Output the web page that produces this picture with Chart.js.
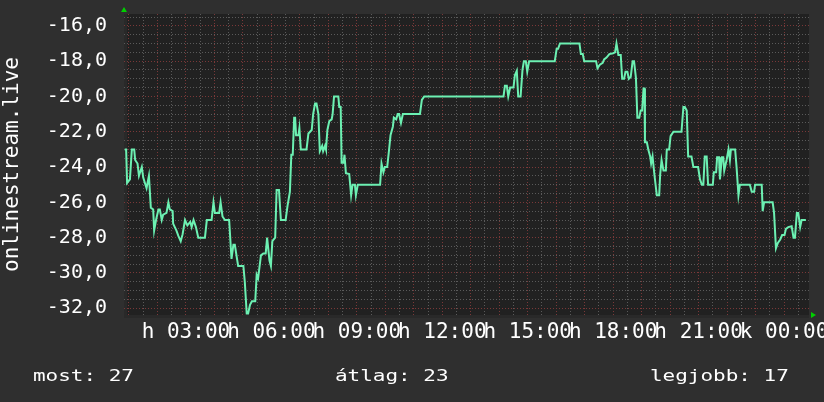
<!DOCTYPE html>
<html>
<head>
<meta charset="utf-8">
<script src="https://cdn.jsdelivr.net/npm/chart.js@4.4.1/dist/chart.umd.min.js"></script>
<style>
  html, body { margin: 0; padding: 0; background: #2f2f2f; }
  #wrap { width: 824px; height: 402px; }
</style>
</head>
<body>
<div id="wrap"><canvas id="chart" width="824" height="402"></canvas></div>
<script>
// minutes since 00:00 of the first day
const times = [
  51, 54, 56, 62, 66, 71, 73, 78, 81, 87, 90, 97, 102, 106, 111, 113, 117, 122, 125, 129,
  132, 139, 143, 146, 152, 153, 160, 164, 169, 173, 178, 183, 189, 192, 196, 201, 206, 220, 224, 234,
  238, 241, 250, 253, 257, 262, 271, 276, 280, 283, 287, 290, 301, 304, 308, 311, 315, 319, 326, 329,
  332, 338, 343, 348, 351, 356, 359, 362, 368, 371, 376, 380, 390, 394, 399, 402, 405, 408, 410, 412,
  417, 419, 422, 434, 438, 445, 448, 452, 455, 459, 462, 467, 469, 473, 475, 478, 482, 487, 489, 492,
  501, 503, 506, 508, 512, 514, 517, 524, 528, 531, 536, 538, 542, 589, 592, 596, 599, 604, 608, 611,
  616, 618, 623, 626, 629, 633, 637, 673, 677, 682, 849, 852, 856, 859, 863, 870, 873, 877, 880, 885,
  889, 892, 896, 899, 903, 957, 961, 964, 968, 1009, 1012, 1016, 1019, 1044, 1047, 1052, 1058, 1061, 1066, 1072,
  1080, 1084, 1087, 1091, 1096, 1099, 1103, 1106, 1110, 1113, 1117, 1121, 1124, 1128, 1131, 1135, 1138, 1141, 1144, 1146,
  1147, 1151, 1154, 1158, 1160, 1163, 1167, 1172, 1177, 1179, 1182, 1186, 1191, 1193, 1198, 1201, 1207, 1224, 1228, 1231,
  1235, 1238, 1245, 1249, 1259, 1263, 1267, 1270, 1273, 1277, 1280, 1290, 1292, 1297, 1299, 1303, 1305, 1309, 1312, 1314,
  1319, 1323, 1326, 1328, 1337, 1340, 1344, 1347, 1368, 1372, 1377, 1379, 1393, 1395, 1398, 1416, 1419, 1423, 1427, 1432,
  1436, 1441, 1444, 1449, 1456, 1460, 1463, 1467, 1470, 1474, 1477, 1486
];
const ranks = [
  -23.0, -23.0, -24.9, -24.7, -23.0, -23.0, -23.6, -23.8, -24.5, -24.0, -24.6, -25.2, -24.5, -26.3, -26.4, -27.6, -27.0, -26.4, -26.4, -27.0,
  -26.7, -26.6, -26.0, -26.4, -26.5, -27.2, -27.6, -27.9, -28.2, -27.8, -27.0, -27.3, -27.1, -27.4, -27.0, -27.4, -28.0, -28.0, -27.0, -27.0,
  -26.0, -26.6, -26.6, -26.0, -26.8, -27.0, -27.0, -29.2, -28.4, -28.4, -29.1, -29.6, -29.6, -30.5, -32.3, -32.3, -31.8, -31.6, -31.6, -30.1,
  -30.3, -29.0, -28.9, -28.9, -28.0, -29.3, -29.6, -28.2, -28.0, -25.3, -25.3, -27.0, -27.0, -26.2, -25.4, -23.3, -23.3, -21.2, -21.2, -22.2,
  -22.2, -21.8, -23.0, -23.0, -22.1, -21.9, -21.0, -20.4, -20.4, -21.0, -23.1, -22.8, -23.1, -22.8, -23.0, -21.9, -21.4, -21.3, -21.0, -20.0,
  -20.0, -20.6, -20.6, -23.75, -23.75, -23.3, -24.35, -24.4, -25.6, -25.0, -25.0, -25.6, -25.0, -25.0, -23.8, -24.3, -24.0, -24.0, -23.0, -22.2,
  -21.7, -21.2, -21.3, -21.0, -21.0, -21.5, -21.0, -21.0, -20.2, -20.0, -20.0, -19.4, -19.4, -20.0, -19.5, -19.5, -18.8, -18.55, -20.0, -20.0,
  -18.5, -18.0, -18.0, -18.6, -18.0, -18.0, -17.3, -17.3, -17.0, -17.0, -17.6, -17.6, -18.0, -18.0, -18.4, -18.2, -18.1, -17.9, -17.8, -17.6,
  -17.55, -17.5, -17.0, -17.65, -17.65, -19.0, -19.0, -18.6, -18.6, -19.0, -18.9, -18.0, -18.0, -18.95, -21.2, -21.2, -20.8, -20.8, -19.55, -19.55,
  -22.6, -22.6, -23.0, -23.4, -23.8, -23.4, -24.45, -25.6, -25.6, -24.45, -23.6, -24.2, -24.2, -23.0, -23.0, -22.25, -22.0, -22.0, -20.6, -20.6,
  -20.8, -23.4, -23.4, -24.0, -24.0, -24.7, -25.0, -25.0, -23.4, -23.4, -25.0, -25.0, -24.3, -24.3, -23.45, -23.45, -24.7, -23.45, -23.45, -24.2,
  -23.6, -23.0, -23.6, -23.0, -23.0, -24.0, -25.6, -25.0, -25.0, -25.4, -25.4, -25.0, -25.0, -26.5, -26.0, -26.0, -26.6, -28.6, -28.3, -28.1,
  -27.85, -27.85, -27.5, -27.4, -27.35, -28.0, -28.0, -26.6, -26.6, -27.4, -27.0, -27.0
];

const tickMinutes = [180, 360, 540, 720, 900, 1080, 1260, 1440];
const tickLabels = ['h 03:00', 'h 06:00', 'h 09:00', 'h 12:00', 'h 15:00', 'h 18:00', 'h 21:00', 'k 00:00'];
const yTickValues = [-16, -18, -20, -22, -24, -26, -28, -30, -32];
const yTitle = 'onlinestream.live';
const summary = ['most: 27', 'átlag: 23', 'legjobb: 17'];

const MONO = '"DejaVu Sans Mono", monospace';
const majorGrid = '#7a3838';
const minorGrid = '#5a5a5a';
const textColor = '#ffffff';

const decor = {
  id: 'decor',
  beforeDraw(chart) {
    const { ctx, chartArea: a } = chart;
    ctx.save();
    ctx.fillStyle = '#212121';
    ctx.fillRect(a.left, a.top, a.right - a.left, a.bottom - a.top + 3);
    ctx.fillStyle = '#292929';
    ctx.fillRect(a.left, a.top, 3, a.bottom - a.top + 3);
    ctx.fillRect(a.left, a.bottom, a.right - a.left, 3);
    ctx.restore();
  },
  afterDraw(chart) {
    const { ctx, chartArea: a } = chart;
    ctx.save();
    // axis arrows
    ctx.fillStyle = '#00d000';
    ctx.beginPath();
    ctx.moveTo(a.left, a.top - 7);
    ctx.lineTo(a.left - 3, a.top - 2);
    ctx.lineTo(a.left + 3, a.top - 2);
    ctx.fill();
    ctx.beginPath();
    ctx.moveTo(a.right + 7, a.bottom);
    ctx.lineTo(a.right + 2, a.bottom - 3);
    ctx.lineTo(a.right + 2, a.bottom + 3);
    ctx.fill();
    // summary line
    ctx.fillStyle = textColor;
    ctx.font = '16px ' + MONO;
    ctx.textBaseline = 'alphabetic';
    const xs = [33, 335, 650];
    const sx = 1.31;
    summary.forEach((t, i) => {
      ctx.save();
      ctx.scale(sx, 1);
      ctx.fillText(t, xs[i] / sx, 381);
      ctx.restore();
    });
    ctx.restore();
  }
};

new Chart(document.getElementById('chart'), {
  type: 'line',
  data: {
    datasets: [{
      data: times.map((t, i) => ({ x: t, y: ranks[i] })),
      borderColor: '#6cf0b2',
      borderWidth: 2,
      pointRadius: 0,
      tension: 0,
      fill: false
    }]
  },
  options: {
    responsive: false,
    animation: false,
    events: [],
    layout: { padding: { left: 0, top: 14, right: 15, bottom: 0 } },
    plugins: { legend: { display: false }, tooltip: { enabled: false } },
    scales: {
      x: {
        type: 'linear',
        min: 49.5,
        max: 1492.6,
        afterBuildTicks: s => {
          s.ticks = [];
          for (let m = 60; m <= 1470; m += 30) s.ticks.push({ value: m });
        },
        afterFit: s => {
          s.height = 87;
          s.paddingLeft = 0;
          s.paddingRight = 0;
        },
        grid: {
          color: c => (c.tick && c.tick.value % 60 === 0) ? majorGrid : minorGrid,
          drawTicks: false,
          lineWidth: 1
        },
        border: { display: false, dash: [1, 2] },
        ticks: {
          autoSkip: false,
          maxRotation: 0,
          minRotation: 0,
          padding: 5,
          color: textColor,
          font: { family: MONO, size: 21 },
          callback: v => {
            const i = tickMinutes.indexOf(v);
            return i >= 0 ? tickLabels[i] : '';
          }
        }
      },
      y: {
        min: -32.38,
        max: -15.33,
        afterBuildTicks: s => {
          s.ticks = [];
          for (let v = -32; v <= -15.5; v += 0.5) s.ticks.push({ value: v });
        },
        afterFit: s => {
          s.width = 124;
          s.paddingTop = 0;
          s.paddingBottom = 0;
        },
        grid: {
          color: c => (c.tick && c.tick.value % 2 === 0) ? majorGrid : minorGrid,
          drawTicks: false,
          lineWidth: 1
        },
        border: { display: false, dash: [1, 2] },
        ticks: {
          autoSkip: false,
          padding: 17,
          color: textColor,
          font: { family: MONO, size: 20 },
          callback: v => yTickValues.includes(v) ? v.toFixed(1).replace('.', ',') : ''
        },
        title: {
          display: true,
          text: yTitle,
          color: textColor,
          font: { family: MONO, size: 21 },
          padding: { top: 0, bottom: 0 }
        }
      }
    }
  },
  plugins: [decor]
});
</script>
</body>
</html>
